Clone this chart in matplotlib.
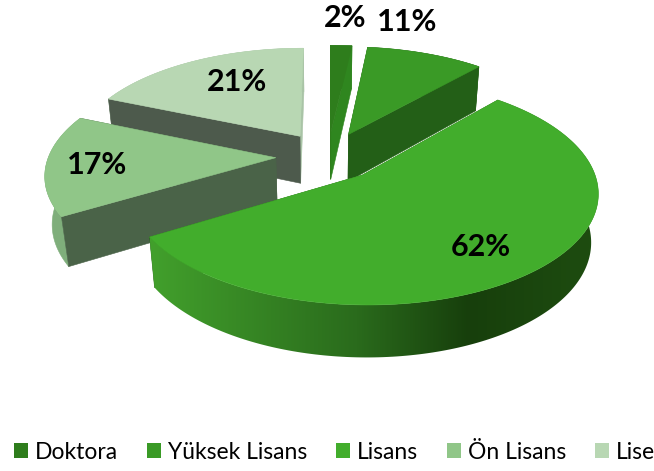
import numpy as np
import matplotlib
matplotlib.use("Agg")
import matplotlib.pyplot as plt
from matplotlib.colors import LinearSegmentedColormap
from matplotlib.patches import Polygon, Patch

plt.rcParams['font.family'] = ['Lato', 'DejaVu Sans']

# data
labels = ["Doktora", "Yüksek Lisans", "Lisans", "Ön Lisans", "Lise"]
values = [2, 11, 62, 17, 21]

top_colors = ["#2e7d1c", "#3a9a26", "#42ad2c", "#90c688", "#b8d7b3"]
start_walls = ["#2e7d1c", "#235f17", "#2a6b1c", "#4a6348", "#4d5a4c"]
end_walls = ["#2f861f", "#235f17", "#2a6b1c", "#4a6348", "#a9c4a6"]
arc_walls = ["#2f861f", "#235f17", None, "#7fae7b", "#a9c4a6"]
draw_order = [4, 0, 1, 3, 2]  # arkadan one

label_pos = [(345, 18), (407, 22), (481, 247), (97, 165), (237, 82)]

# perspective of the pie, in pixels
cx, cy = 328, 156
ax_r, ay_r = 227, 105.6
persp = 0.141
depth = 49
shrink = 0.026
explode = 0.23


def project(u, v, bottom=False):
    w = 1 + persp * v + (shrink if bottom else 0)
    x = cx + ax_r * u / w
    y = cy - ay_r * v / w
    if bottom:
        y = y + depth / w
    return np.column_stack([x, y])


fig = plt.figure(figsize=(6.54, 4.71), dpi=100)
ax = fig.add_axes([0, 0, 1, 1])

grad = LinearSegmentedColormap.from_list("wall", [(0, "#42a02c"), (0.46, "#2a6b1c"), (0.71, "#173f0c"), (1, "#1e4d10")])

ends = np.cumsum(values) / sum(values) * 2 * np.pi
starts = np.r_[0, ends[:-1]]

for i in draw_order:
    a, b = starts[i], ends[i]
    mid = (a + b) / 2
    du, dv = explode * np.sin(mid), explode * np.cos(mid)
    t = np.linspace(a, b, 200)
    u = du + np.sin(t)
    v = dv + np.cos(t)

    apex_top = project(np.array([du]), np.array([dv]))
    apex_bot = project(np.array([du]), np.array([dv]), True)
    arc_top = project(u, v)
    arc_bot = project(u, v, True)
    top = np.vstack([apex_top, arc_top])
    arc_poly = np.vstack([arc_top, arc_bot[::-1]])

    # kesim yuzleri ve dis yay: buyuk dilimde yay one gelir
    if arc_walls[i] is not None:
        ax.add_patch(Polygon(arc_poly, fc=arc_walls[i], ec=arc_walls[i], lw=0.4))
    ax.add_patch(Polygon(np.vstack([apex_top, arc_top[-1:], arc_bot[-1:], apex_bot]), fc=end_walls[i], ec=end_walls[i], lw=0.4))
    ax.add_patch(Polygon(np.vstack([apex_top, arc_top[:1], arc_bot[:1], apex_bot]), fc=start_walls[i], ec=start_walls[i], lw=0.4))
    if arc_walls[i] is None:
        p = Polygon(arc_poly, fc="none", ec="none", zorder=1.2)
        ax.add_patch(p)
        im = ax.imshow(np.linspace(0, 1, 256).reshape(1, -1), cmap=grad, aspect="auto",
                       extent=(arc_poly[:, 0].min(), arc_poly[:, 0].max(), 471, 0))
        im.set_clip_path(p)
        im.set_zorder(1.2)

    ax.add_patch(Polygon(top, fc=top_colors[i], ec=top_colors[i], lw=0.4, zorder=1.5 if i == 2 else 1))

for val, (x, y) in zip(values, label_pos):
    ax.text(x, y, f"{val}%", ha="center", va="center", fontsize=22, fontweight="bold", color="black", zorder=5)

handles = [Patch(fc=c, ec=c, lw=0) for c in top_colors]
leg = ax.legend(handles, labels, ncol=5, loc="center left", bbox_to_anchor=(0.021, 0.04), frameon=False,
                fontsize=16.5, handlelength=0.61, handleheight=0.61, handletextpad=0.3, columnspacing=1.27,
                borderpad=0, borderaxespad=0)

ax.set_xlim(0, 654)
ax.set_ylim(471, 0)
ax.axis("off")
fig.savefig("out.png", dpi=100)
